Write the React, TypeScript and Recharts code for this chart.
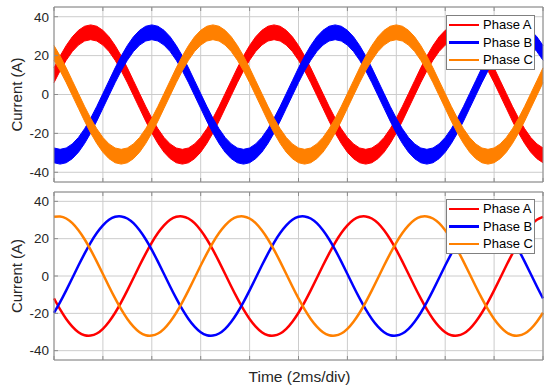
import React from 'react';
import { ComposedChart, Line, Area, XAxis, YAxis, CartesianGrid, Legend } from 'recharts';

// ---- data ----
const timeMs = [
  0, 0.25, 0.5, 0.75, 1, 1.25, 1.5, 1.75, 2, 2.25, 2.5, 2.75, 3, 3.25, 3.5, 3.75, 4, 4.25, 4.5, 4.75,
  5, 5.25, 5.5, 5.75, 6, 6.25, 6.5, 6.75, 7, 7.25, 7.5, 7.75, 8, 8.25, 8.5, 8.75, 9, 9.25, 9.5, 9.75,
  10, 10.25, 10.5, 10.75, 11, 11.25, 11.5, 11.75, 12, 12.25, 12.5, 12.75, 13, 13.25, 13.5, 13.75, 14, 14.25, 14.5, 14.75,
  15, 15.25, 15.5, 15.75, 16, 16.25, 16.5, 16.75, 17, 17.25, 17.5, 17.75, 18, 18.25, 18.5, 18.75, 19, 19.25, 19.5, 19.75,
  20,
];

// Measured (top panel) – centre of the rippled band, A
const topPhaseA = [
  9.9, 16.0, 21.4, 25.9, 29.2, 31.3,
  32.0, 31.3, 29.2, 25.9, 21.4, 16.0, 9.9, 3.3, -3.3, -9.9, -16.0, -21.4, -25.9, -29.2, -31.3, -32.0, -31.3, -29.2, -25.9, -21.4, -16.0, -9.9, -3.3, 3.3, 9.9, 16.0, 21.4, 25.9, 29.2, 31.3,
  32.0, 31.3, 29.2, 25.9, 21.4, 16.0, 9.9, 3.3, -3.3, -9.9, -16.0, -21.4, -25.9, -29.2, -31.3, -32.0, -31.3, -29.2, -25.9, -21.4, -16.0, -9.9, -3.3, 3.3, 9.9, 16.0, 21.4, 25.9, 29.2, 31.3,
  32.0, 31.3, 29.2, 25.9, 21.4, 16.0, 9.9, 3.3, -3.3, -9.9, -16.0, -21.4, -25.9, -29.2, -31.3,
];
const topPhaseB = [
  -31.3, -32.0, -31.3, -29.2, -25.9, -21.4, -16.0, -9.9, -3.3, 3.3, 9.9, 16.0, 21.4, 25.9, 29.2, 31.3,
  32.0, 31.3, 29.2, 25.9, 21.4, 16.0, 9.9, 3.3, -3.3, -9.9, -16.0, -21.4, -25.9, -29.2, -31.3, -32.0, -31.3, -29.2, -25.9, -21.4, -16.0, -9.9, -3.3, 3.3, 9.9, 16.0, 21.4, 25.9, 29.2, 31.3,
  32.0, 31.3, 29.2, 25.9, 21.4, 16.0, 9.9, 3.3, -3.3, -9.9, -16.0, -21.4, -25.9, -29.2, -31.3, -32.0, -31.3, -29.2, -25.9, -21.4, -16.0, -9.9, -3.3, 3.3, 9.9, 16.0, 21.4, 25.9, 29.2, 31.3,
  32.0, 31.3, 29.2, 25.9, 21.4,
];
const topPhaseC = [
  21.4, 16.0, 9.9, 3.3, -3.3, -9.9, -16.0, -21.4, -25.9, -29.2, -31.3, -32.0, -31.3, -29.2, -25.9, -21.4, -16.0, -9.9, -3.3, 3.3, 9.9, 16.0, 21.4, 25.9, 29.2, 31.3,
  32.0, 31.3, 29.2, 25.9, 21.4, 16.0, 9.9, 3.3, -3.3, -9.9, -16.0, -21.4, -25.9, -29.2, -31.3, -32.0, -31.3, -29.2, -25.9, -21.4, -16.0, -9.9, -3.3, 3.3, 9.9, 16.0, 21.4, 25.9, 29.2, 31.3,
  32.0, 31.3, 29.2, 25.9, 21.4, 16.0, 9.9, 3.3, -3.3, -9.9, -16.0, -21.4, -25.9, -29.2, -31.3, -32.0, -31.3, -29.2, -25.9, -21.4, -16.0, -9.9, -3.3, 3.3, 9.9,
];
// half height of the switching ripple band in the top panel, A
const topRipple = 3.8;

// Reference (bottom panel), A
const bottomPhaseA = [
  -12.0, -17.9, -23.0, -27.1, -30.1, -31.7, -31.9, -30.8, -28.3, -24.5, -19.7, -14.0, -7.7, -1.1, 5.6, 12.0, 17.9, 23.0, 27.1, 30.1, 31.7,
  31.9, 30.8, 28.3, 24.5, 19.7, 14.0, 7.7, 1.1, -5.6, -12.0, -17.9, -23.0, -27.1, -30.1, -31.7, -31.9, -30.8, -28.3, -24.5, -19.7, -14.0, -7.7, -1.1, 5.6, 12.0, 17.9, 23.0, 27.1, 30.1, 31.7,
  31.9, 30.8, 28.3, 24.5, 19.7, 14.0, 7.7, 1.1, -5.6, -12.0, -17.9, -23.0, -27.1, -30.1, -31.7, -31.9, -30.8, -28.3, -24.5, -19.7, -14.0, -7.7, -1.1, 5.6, 12.0, 17.9, 23.0, 27.1, 30.1, 31.7,
];
const bottomPhaseB = [
  -19.7, -14.0, -7.7, -1.1, 5.6, 12.0, 17.9, 23.0, 27.1, 30.1, 31.7,
  31.9, 30.8, 28.3, 24.5, 19.7, 14.0, 7.7, 1.1, -5.6, -12.0, -17.9, -23.0, -27.1, -30.1, -31.7, -31.9, -30.8, -28.3, -24.5, -19.7, -14.0, -7.7, -1.1, 5.6, 12.0, 17.9, 23.0, 27.1, 30.1, 31.7,
  31.9, 30.8, 28.3, 24.5, 19.7, 14.0, 7.7, 1.1, -5.6, -12.0, -17.9, -23.0, -27.1, -30.1, -31.7, -31.9, -30.8, -28.3, -24.5, -19.7, -14.0, -7.7, -1.1, 5.6, 12.0, 17.9, 23.0, 27.1, 30.1, 31.7,
  31.9, 30.8, 28.3, 24.5, 19.7, 14.0, 7.7, 1.1, -5.6, -12.0,
];
const bottomPhaseC = [
  31.7,
  31.9, 30.8, 28.3, 24.5, 19.7, 14.0, 7.7, 1.1, -5.6, -12.0, -17.9, -23.0, -27.1, -30.1, -31.7, -31.9, -30.8, -28.3, -24.5, -19.7, -14.0, -7.7, -1.1, 5.6, 12.0, 17.9, 23.0, 27.1, 30.1, 31.7,
  31.9, 30.8, 28.3, 24.5, 19.7, 14.0, 7.7, 1.1, -5.6, -12.0, -17.9, -23.0, -27.1, -30.1, -31.7, -31.9, -30.8, -28.3, -24.5, -19.7, -14.0, -7.7, -1.1, 5.6, 12.0, 17.9, 23.0, 27.1, 30.1, 31.7,
  31.9, 30.8, 28.3, 24.5, 19.7, 14.0, 7.7, 1.1, -5.6, -12.0, -17.9, -23.0, -27.1, -30.1, -31.7, -31.9, -30.8, -28.3, -24.5, -19.7,
];

const seriesNames = ['Phase A', 'Phase B', 'Phase C'];
const seriesColors = ['#ff0000', '#0000ff', '#ff8000'];
const yTicks = [-40, -20, 0, 20, 40];
const xTicks = [0, 2, 4, 6, 8, 10, 12, 14, 16, 18, 20];
const yDomain = [-45, 45];
const xDomain = [0, 20];
const yLabelText = 'Current (A)';
const xLabelText = 'Time (2ms/div)';

// ---- tables for the library ----
const topData = timeMs.map((t, i) => ({
  t,
  a: [topPhaseA[i] - topRipple, topPhaseA[i] + topRipple],
  b: [topPhaseB[i] - topRipple, topPhaseB[i] + topRipple],
  c: [topPhaseC[i] - topRipple, topPhaseC[i] + topRipple],
}));
const bottomData = timeMs.map((t, i) => ({ t, a: bottomPhaseA[i], b: bottomPhaseB[i], c: bottomPhaseC[i] }));

const FONT = "'Liberation Sans', Arial, Helvetica, sans-serif";
const AXIS = '#8c8c8c';
const GRID = '#cccccc';
const TEXT = '#262626';

const NoTick = () => <g />;

// vertical grid positions come from the library's own x scale
const verticalGridFromScale = (p: any) => {
  const s = p && p.xAxis && p.xAxis.scale;
  if (!s) return [];
  const fn = typeof s === 'function' ? s : s.map ? (v: number) => s.map(v) : null;
  if (!fn) return [];
  return xTicks.map((v) => fn(v));
};

const LegendBox = () => (
  <div
    style={{
      boxSizing: 'border-box',
      width: 89,
      border: '1px solid #808080',
      background: '#ffffff',
      fontFamily: FONT,
      fontSize: 13,
      color: '#000',
    }}
  >
    {seriesNames.map((n, i) => (
      <div key={n} style={{ height: 17.5, display: 'flex', alignItems: 'center' }}>
        <div style={{ width: 30, height: 2.5, background: seriesColors[i], marginLeft: 2, marginRight: 4 }} />
        <span style={{ lineHeight: '17.5px', whiteSpace: 'nowrap' }}>{n}</span>
      </div>
    ))}
  </div>
);

const YLabel = (props: any) => {
  const vb = props.viewBox || { x: 0, y: 0, width: 54, height: 100 };
  const cx = vb.x + 16.5;
  const cy = vb.y + vb.height / 2;
  return (
    <text
      x={cx}
      y={cy}
      transform={`rotate(-90 ${cx} ${cy})`}
      textAnchor="middle"
      dominantBaseline="central"
      fontSize={15}
      fill={TEXT}
      fontFamily={FONT}
    >
      {yLabelText}
    </text>
  );
};

const XLabel = (props: any) => {
  const vb = props.viewBox || { x: 0, y: 0, width: 100, height: 31 };
  return (
    <text
      x={vb.x + vb.width / 2 + 1}
      y={vb.y + 21.7}
      textAnchor="middle"
      fontSize={15.5}
      fill={TEXT}
      fontFamily={FONT}
    >
      {xLabelText}
    </text>
  );
};

const commonAxes = (bottomHeight: number, withXLabel: boolean) => [
  <XAxis
    key="xb"
    dataKey="t"
    type="number"
    domain={xDomain}
    ticks={xTicks}
    interval={0}
    tick={NoTick}
    tickSize={-4}
    height={bottomHeight}
    stroke={AXIS}
    label={withXLabel ? XLabel : undefined}
  />,
  <XAxis
    key="xt"
    xAxisId="top"
    orientation="top"
    dataKey="t"
    type="number"
    domain={xDomain}
    ticks={xTicks}
    interval={0}
    tick={NoTick}
    tickSize={-4}
    height={1}
    stroke={AXIS}
  />,
  <YAxis
    key="yl"
    type="number"
    domain={yDomain}
    ticks={yTicks}
    interval={0}
    width={54}
    tickSize={-4}
    tickMargin={9}
    stroke={AXIS}
    tick={{ fill: TEXT, fontSize: 13.5, fontFamily: FONT }}
    label={YLabel}
  />,
  <YAxis
    key="yr"
    yAxisId="right"
    orientation="right"
    type="number"
    domain={yDomain}
    ticks={yTicks}
    interval={0}
    tick={NoTick}
    tickSize={-4}
    width={1}
    stroke={AXIS}
  />,
];

export default function App() {
  return (
    <div style={{ position: 'absolute', left: 0, top: 0, width: 550, height: 391, background: '#ffffff' }}>
      <div style={{ position: 'absolute', left: 0, top: 0 }}>
        <ComposedChart
          width={550}
          height={190}
          data={topData}
          margin={{ top: 6, right: 6, bottom: 7, left: 0 }}
          style={{ fontFamily: FONT }}
        >
          <CartesianGrid stroke={GRID} verticalCoordinatesGenerator={verticalGridFromScale} />
          {commonAxes(1, false)}
          {['a', 'b', 'c'].map((k, i) => (
            <Area
              key={k}
              dataKey={k}
              name={seriesNames[i]}
              type="linear"
              stroke={seriesColors[i]}
              strokeWidth={1}
              fill={seriesColors[i]}
              fillOpacity={1}
              dot={false}
              activeDot={false}
              isAnimationActive={false}
            />
          ))}
          <Legend
            layout="vertical"
            align="center"
            verticalAlign="middle"
            content={<LegendBox />}
            wrapperStyle={{ left: 446, top: 15, width: 89 }}
          />
        </ComposedChart>
      </div>
      <div style={{ position: 'absolute', left: 0, top: 190 }}>
        <ComposedChart
          width={550}
          height={201}
          data={bottomData}
          margin={{ top: 1, right: 6, bottom: 0, left: 0 }}
          style={{ fontFamily: FONT }}
        >
          <CartesianGrid stroke={GRID} verticalCoordinatesGenerator={verticalGridFromScale} />
          {commonAxes(31, true)}
          {['a', 'b', 'c'].map((k, i) => (
            <Line
              key={k}
              dataKey={k}
              name={seriesNames[i]}
              type="natural"
              stroke={seriesColors[i]}
              strokeWidth={2.5}
              dot={false}
              activeDot={false}
              isAnimationActive={false}
            />
          ))}
          <Legend
            layout="vertical"
            align="center"
            verticalAlign="middle"
            content={<LegendBox />}
            wrapperStyle={{ left: 446, top: 9, width: 89 }}
          />
        </ComposedChart>
      </div>
    </div>
  );
}
